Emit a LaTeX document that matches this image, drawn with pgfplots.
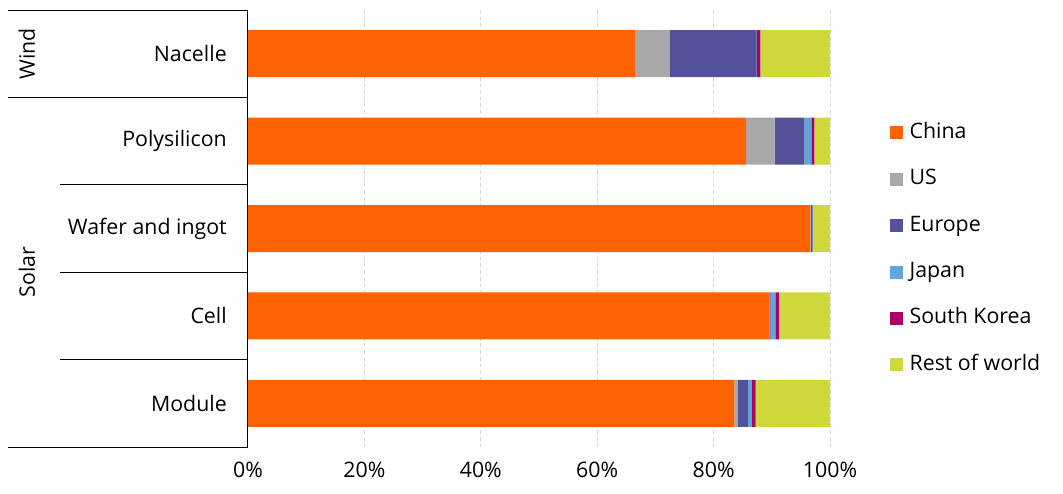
\documentclass[border=0pt]{standalone}
\usepackage{pgfplots}
\pgfplotsset{compat=1.18}
\usepackage{fontspec}
\setmainfont{Open Sans}
\definecolor{cChina}{HTML}{FF6200}
\definecolor{cUS}{HTML}{A8A8A8}
\definecolor{cEurope}{HTML}{525199}
\definecolor{cJapan}{HTML}{60A6DA}
\definecolor{cSK}{HTML}{AB0066}
\definecolor{cRest}{HTML}{D0D93C}
\definecolor{cGrid}{HTML}{D9D9D9}
\begin{document}
\begin{tikzpicture}[font=\fontsize{16}{19}\selectfont]
\begin{axis}[
  name=ax, at={(0,0)}, anchor=south west,
  scale only axis, width=436.5pt, height=327.75pt,
  xbar stacked, bar width=35.25pt,
  xmin=0, xmax=100, ymin=-0.5, ymax=4.5, y dir=reverse,
  clip=false,
  axis y line*=left, axis x line*=bottom,
  x axis line style={draw=none},
  y axis line style={black, line width=0.75pt},
  major tick length=0pt,
  xtick={0,20,40,60,80,100},
  xticklabel={\pgfmathprintnumber{\tick}\%},
  /pgf/number format/assume math mode=true,
  xticklabel style={inner sep=0pt, anchor=north, yshift=-11pt},
  ytick={0,1,2,3,4},
  yticklabels={Nacelle,Polysilicon,Wafer and ingot,Cell,Module},
  yticklabel style={inner sep=0pt, anchor=east, xshift=-15.75pt},
  xmajorgrids, grid style={cGrid, line width=0.75pt, dash pattern=on 3pt off 2pt},
  legend style={draw=none, fill=none, at={(1,1)}, anchor=north west,
    xshift=42pt, yshift=-82pt, row sep=18.8pt,
    nodes={inner sep=0pt, text height=12pt, text depth=4pt},
    cells={anchor=west}},
  legend image code/.code={\path[#1, draw=none] (0pt,-4.9pt) rectangle (9.75pt,4.9pt); \path (14.5pt,0pt);},
  legend cell align=left,
  every axis plot/.append style={draw=none},
]
\addplot[fill=cChina] coordinates {(66.6,0) (85.6,1) (96.6,2) (89.5,3) (83.55,4)};
\addplot[fill=cUS] coordinates {(5.9,0) (4.9,1) (0.05,2) (0.1,3) (0.63,4)};
\addplot[fill=cEurope] coordinates {(14.9,0) (5.1,1) (0.3,2) (0.2,3) (1.72,4)};
\addplot[fill=cJapan] coordinates {(0.05,0) (1.2,1) (0.05,2) (0.8,3) (0.69,4)};
\addplot[fill=cSK] coordinates {(0.6,0) (0.5,1) (0.05,2) (0.63,3) (0.63,4)};
\addplot[fill=cRest] coordinates {(11.95,0) (2.7,1) (2.95,2) (8.77,3) (12.78,4)};
\legend{China,US,Europe,Japan,South Korea,Rest of world}
\draw[black, line width=0.75pt] ([xshift=-180pt]axis cs:0,-0.5) -- (axis cs:0,-0.5);
\draw[black, line width=0.75pt] ([xshift=-180pt]axis cs:0,0.5) -- (axis cs:0,0.5);
\draw[black, line width=0.75pt] ([xshift=-141pt]axis cs:0,1.5) -- (axis cs:0,1.5);
\draw[black, line width=0.75pt] ([xshift=-141pt]axis cs:0,2.5) -- (axis cs:0,2.5);
\draw[black, line width=0.75pt] ([xshift=-141pt]axis cs:0,3.5) -- (axis cs:0,3.5);
\draw[black, line width=0.75pt] ([xshift=-180pt]axis cs:0,4.5) -- (axis cs:0,4.5);
\node[rotate=90, inner sep=0pt] at ([xshift=-165.75pt]axis cs:0,0) {Wind};
\node[rotate=90, inner sep=0pt] at ([xshift=-165.75pt]axis cs:0,2.5) {Solar};
\end{axis}
\pgfresetboundingbox
\path (-186pt,-34.5pt) rectangle (611.25pt,335.25pt);
\end{tikzpicture}
\end{document}
